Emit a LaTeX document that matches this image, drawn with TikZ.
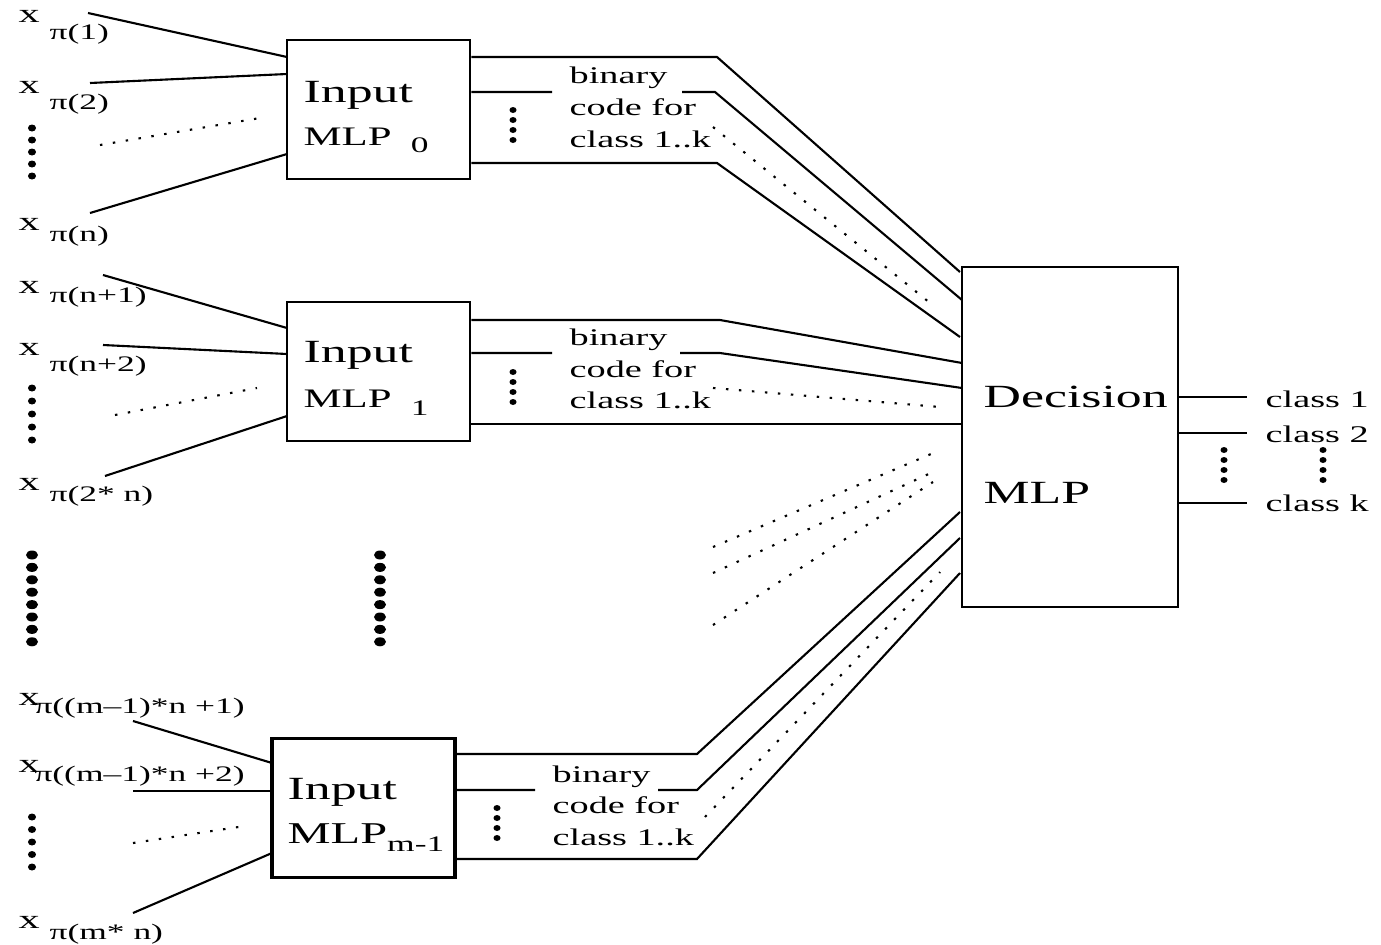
\documentclass[tikz,border=0pt]{standalone}
\usepackage{fontspec}
\setmainfont[FakeStretch=1.6]{Liberation Serif}

\newcommand{\subtxt}{\fontsize{6.3}{7}\selectfont}
\newcommand{\xsub}[3]{x\hspace{#1}\raisebox{-#2}{\subtxt #3}}

\tikzset{
	mlpbox/.style={draw, line width=0.8pt, minimum width=1.83cm, minimum height=1.39cm, inner sep=0pt},
	bigtxt/.style={anchor=base west, inner sep=0pt, font=\fontsize{9.2}{11}\selectfont},
	mlptxt/.style={anchor=base west, inner sep=0pt, font=\fontsize{7.6}{9}\selectfont},
	codetxt/.style={anchor=base west, inner sep=0pt, font=\fontsize{6.8}{8}\selectfont},
	xtxt/.style={anchor=base west, inner sep=0pt, font=\fontsize{7.5}{9}\selectfont},
	wire/.style={line width=0.6pt},
	dotwire/.style={line width=0.6pt, dash pattern=on 0.7pt off 3pt},
}

\begin{document}
\begin{tikzpicture}[x=0.01cm, y=-0.01cm]
	\useasboundingbox (0,0) rectangle (1381,945);

	% the four MLP boxes
	\node	(mlp0) at (378.5,109.5) [mlpbox] {};
	\node	(mlp1) at (378.5,371.5) [mlpbox] {};
	\node	(mlpm) at (363.5,808) [mlpbox, line width=1.1pt] {};
	\node	(dec) at (1070,437) [draw, line width=0.7pt, minimum width=2.16cm, minimum height=3.4cm, inner sep=0pt] {};

	\node	(in0) at (303,102) [bigtxt] {Input};
	\node	(ml0) at (303,145) [mlptxt] {MLP\hspace{5.5pt}\raisebox{-2pt}{\subtxt 0}};
	\node	(in1) at (303,362) [bigtxt] {Input};
	\node	(ml1) at (303,407) [mlptxt] {MLP\hspace{5.5pt}\raisebox{-2.3pt}{\subtxt 1}};
	\node	(inm) at (287,799) [bigtxt] {Input};
	\node	(mlm) at (287,843) [mlptxt, font=\fontsize{8.6}{10}\selectfont] {MLP\raisebox{-2.5pt}{\subtxt m-1}};
	\node	(dc) at (983,407) [bigtxt] {Decision};
	\node	(dm) at (983,503) [bigtxt] {MLP};

	% inputs
	\node	(x1) at (18,22) [xtxt] {\xsub{2.8pt}{5pt}{π(1)}};
	\node	(x2) at (18,93) [xtxt] {\xsub{2.8pt}{4.8pt}{π(2)}};
	\node	(xn) at (18,230) [xtxt] {\xsub{2.8pt}{3.4pt}{π(n)}};
	\node	(xn1) at (18,293) [xtxt] {\xsub{2.8pt}{2.8pt}{π(n+1)}};
	\node	(xn2) at (18,355) [xtxt] {\xsub{2.8pt}{4.8pt}{π(n+2)}};
	\node	(x2n) at (18,490) [xtxt] {\xsub{2.8pt}{3.4pt}{π(2* n)}};
	\node	(xm1) at (18,705) [xtxt] {\xsub{-1.5pt}{2.3pt}{π((m–1)*n +1)}};
	\node	(xm2) at (18,772) [xtxt] {\xsub{-1.5pt}{2.8pt}{π((m–1)*n +2)}};
	\node	(xmn) at (18,928) [xtxt] {\xsub{2.8pt}{3.4pt}{π(m* n)}};

	\coordinate	(a01) at (88,13);	\coordinate	(p01) at (287,57);
	\coordinate	(a02) at (90,83);	\coordinate	(p02) at (287,74);
	\coordinate	(a03) at (100,145);	\coordinate	(p03) at (260,118);
	\coordinate	(a04) at (90,213);	\coordinate	(p04) at (287,154);
	\coordinate	(a11) at (103,275);	\coordinate	(p11) at (287,328);
	\coordinate	(a12) at (103,345);	\coordinate	(p12) at (287,354);
	\coordinate	(a13) at (115,415);	\coordinate	(p13) at (257,388);
	\coordinate	(a14) at (105,476);	\coordinate	(p14) at (287,416);
	\coordinate	(am1) at (133,721);	\coordinate	(pm1) at (272,763);
	\coordinate	(am2) at (133,791);	\coordinate	(pm2) at (272,791);
	\coordinate	(am3) at (133,843);	\coordinate	(pm3) at (245,826);
	\coordinate	(am4) at (133,913);	\coordinate	(pm4) at (272,853);

	\draw[wire]
	(a01) edge (p01)
	(a02) edge (p02)
	(a04) edge (p04)
	(a11) edge (p11)
	(a12) edge (p12)
	(a14) edge (p14)
	(am1) edge (pm1)
	(am2) edge (pm2)
	(am4) edge (pm4)
	;
	\draw[dotwire]
	(a03) edge (p03)
	(a13) edge (p13)
	(am3) edge (pm3)
	;

	% binary codes
	\node	(b0) at (569,83) [codetxt] {binary};
	\node	(c0) at (569,115) [codetxt] {code for};
	\node	(k0) at (569,147) [codetxt] {class 1..k};
	\node	(b1) at (569,345) [codetxt] {binary};
	\node	(c1) at (569,377) [codetxt] {code for};
	\node	(k1) at (569,408) [codetxt] {class 1..k};
	\node	(bm) at (552,782) [codetxt] {binary};
	\node	(cm) at (552,813) [codetxt] {code for};
	\node	(km) at (552,845) [codetxt] {class 1..k};

	\coordinate	(g0) at (552,92);	\coordinate	(h0) at (682,92);
	\coordinate	(g1) at (552,353);	\coordinate	(h1) at (680,353);
	\coordinate	(gm) at (535,790);	\coordinate	(hm) at (658,790);

	\coordinate	(t0a) at (717,57);	\coordinate	(d0a) at (960,272);
	\coordinate	(t0b) at (715,92);	\coordinate	(d0b) at (962,300);
	\coordinate	(t0c) at (713,127);	\coordinate	(d0c) at (935,307);
	\coordinate	(t0d) at (717,163);	\coordinate	(d0d) at (960,337);
	\coordinate	(t1a) at (720,320);	\coordinate	(d1a) at (962,363);
	\coordinate	(t1b) at (720,353);	\coordinate	(d1b) at (962,388);
	\coordinate	(t1c) at (713,388);	\coordinate	(d1c) at (940,407);
	\coordinate	(d1d) at (962,424);
	\coordinate	(tma) at (697,754);	\coordinate	(dma) at (960,512);
	\coordinate	(tmb) at (697,790);	\coordinate	(dmb) at (960,538);
	\coordinate	(tmc) at (705,817);	\coordinate	(dmc) at (940,572);
	\coordinate	(tmd) at (697,859);	\coordinate	(dmd) at (960,573);

	\draw[wire] (mlp0.east |- t0a) -- (t0a) -- (d0a);
	\draw[wire] (mlp0.east |- g0) -- (g0) (h0) -- (t0b) -- (d0b);
	\draw[wire] (mlp0.east |- t0d) -- (t0d) -- (d0d);
	\draw[wire] (mlp1.east |- t1a) -- (t1a) -- (d1a);
	\draw[wire] (mlp1.east |- g1) -- (g1) (h1) -- (t1b) -- (d1b);
	\draw[wire] (mlp1.east |- d1d) -- (d1d);
	\draw[wire] (mlpm.east |- tma) -- (tma) -- (dma);
	\draw[wire] (mlpm.east |- gm) -- (gm) (hm) -- (tmb) -- (dmb);
	\draw[wire] (mlpm.east |- tmd) -- (tmd) -- (dmd);
	\draw[dotwire]
	(t0c) edge (d0c)
	(t1c) edge (d1c)
	(tmc) edge (dmc)
	;

	% the boxes left out
	\coordinate	(r1) at (713,547);	\coordinate	(s1) at (938,451);
	\coordinate	(r2) at (713,573);	\coordinate	(s2) at (933,472);
	\coordinate	(r3) at (713,625);	\coordinate	(s3) at (933,482);
	\draw[dotwire]
	(r1) edge (s1)
	(r2) edge (s2)
	(r3) edge (s3)
	;

	% outputs
	\node	(o1) at (1265,407) [codetxt] {class 1};
	\node	(o2) at (1265,442) [codetxt] {class 2};
	\node	(ok) at (1265,511) [codetxt] {class k};
	\coordinate	(e1) at (1247,397);
	\coordinate	(e2) at (1247,433);
	\coordinate	(ek) at (1247,503);
	\draw[wire]
	(dec.east |- e1) edge (e1)
	(dec.east |- e2) edge (e2)
	(dec.east |- ek) edge (ek)
	;

	% dots
	\foreach \y in {128,140,...,176} \fill (32,\y) ellipse [x radius=0.04cm, y radius=0.035cm];
	\foreach \y in {388,401,...,440} \fill (32,\y) ellipse [x radius=0.04cm, y radius=0.035cm];
	\foreach \y in {817,829.5,...,867} \fill (32,\y) ellipse [x radius=0.04cm, y radius=0.035cm];
	\foreach \y in {110,120,...,140} \fill (513,\y) ellipse [x radius=0.035cm, y radius=0.03cm];
	\foreach \y in {372,382,...,402} \fill (513,\y) ellipse [x radius=0.035cm, y radius=0.03cm];
	\foreach \y in {808,818,...,838} \fill (497,\y) ellipse [x radius=0.035cm, y radius=0.03cm];
	\foreach \y in {450,460,...,480} {
		\fill (1224,\y) ellipse [x radius=0.035cm, y radius=0.03cm];
		\fill (1323,\y) ellipse [x radius=0.035cm, y radius=0.03cm];
	}
	\foreach \i in {0,...,7} {
		\fill (32,{555+12.4*\i}) ellipse [x radius=0.06cm, y radius=0.045cm];
		\fill (380,{555+12.4*\i}) ellipse [x radius=0.06cm, y radius=0.045cm];
	}
\end{tikzpicture}
\end{document}
